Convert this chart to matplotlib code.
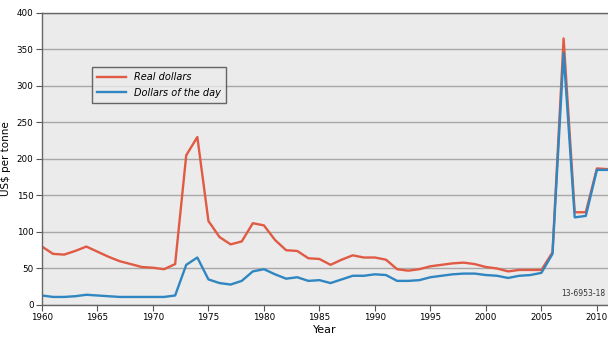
import matplotlib
matplotlib.use('Agg')
import matplotlib.pyplot as plt

years = list(range(1960, 2012))
real_dollars = [80, 70, 69, 74, 80, 73, 66, 60, 56, 52,
                51, 49, 56, 205, 230, 115, 93, 83, 87, 112,
                109, 89, 75, 74, 64, 63, 55, 62, 68, 65,
                65, 62, 49, 47, 49, 53, 55, 57, 58, 56,
                52, 50, 46, 48, 48, 48, 72, 365, 127, 127,
                187, 186]
dollars_of_day = [13, 11, 11, 12, 14, 13, 12, 11, 11, 11,
                  11, 11, 13, 55, 65, 35, 30, 28, 33, 46,
                  49, 42, 36, 38, 33, 34, 30, 35, 40, 40,
                  42, 41, 33, 33, 34, 38, 40, 42, 43, 43,
                  41, 40, 37, 40, 41, 44, 70, 345, 120, 122,
                  185, 185]
x_ticks = [1960, 1965, 1970, 1975, 1980, 1985, 1990, 1995, 2000, 2005, 2010]
y_ticks = [0, 50, 100, 150, 200, 250, 300, 350, 400]

fig = plt.figure(figsize=(6.08, 3.4), dpi=100)
ax = fig.add_axes([0.069, 0.103, 0.931, 0.859])
ax.set_facecolor('#ebebeb')

ax.plot(years, real_dollars, color='#e05a44', lw=1.7, label='Real dollars')
ax.plot(years, dollars_of_day, color='#2f86c0', lw=1.7, label='Dollars of the day')

ax.set_xlim(1960, 2011)
ax.set_ylim(0, 400)
ax.set_xticks(x_ticks)
ax.set_yticks(y_ticks)
ax.yaxis.grid(True, color='#a8a8a8', lw=1.0)
ax.set_axisbelow(True)
ax.tick_params(labelsize=6.3, length=4, width=0.8, color='#555555', pad=2)

for s in ['left', 'bottom', 'top']:
    ax.spines[s].set_color('#666666')
    ax.spines[s].set_linewidth(1.0)
ax.spines['right'].set_visible(False)

ax.set_xlabel('Year', fontsize=8, labelpad=2)
ax.set_ylabel('US$ per tonne', fontsize=7.5, labelpad=4)

leg = ax.legend(loc='upper left', bbox_to_anchor=(0.08, 0.83),
                prop={'style': 'italic', 'size': 7}, frameon=True, fancybox=False,
                handlelength=3.0, borderpad=0.5, labelspacing=0.55)
leg.get_frame().set_edgecolor('#444444')
leg.get_frame().set_facecolor('#ebebeb')
leg.get_frame().set_linewidth(1.0)

ax.text(0.995, 0.025, '13-6953-18', transform=ax.transAxes, ha='right',
        va='bottom', fontsize=5.5, color='#333333')

fig.savefig('out.png', dpi=100)
